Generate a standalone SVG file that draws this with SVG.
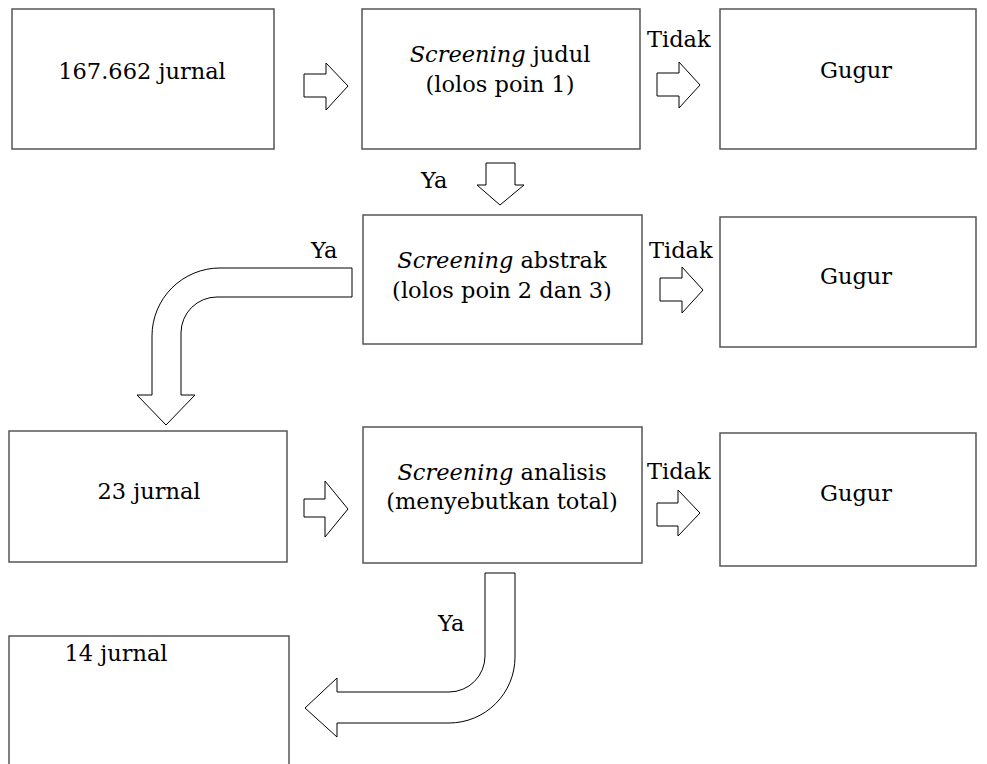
<svg xmlns="http://www.w3.org/2000/svg" width="987" height="764" viewBox="0 0 987 764">
<style>
.box{fill:#fff;stroke:#555;stroke-width:1.5}
.arr{fill:#fff;stroke:#000;stroke-width:1}
text{font-family:"DejaVu Serif","Liberation Serif",serif;font-size:22.5px;fill:#000}
.c{text-anchor:middle}
.i{font-style:italic}
</style>
<rect width="987" height="764" fill="#fff"/>
<g id="connectors">
<path class="arr" d="M304,74 L326,74 L326,63 L348,86 L326,110 L326,97 L304,97 Z"/>
<path class="arr" d="M657,73 L679,73 L679,62 L700,85 L679,108 L679,96 L657,96 Z"/>
<path class="arr" d="M486,163 L515,163 L515,185 L524,185 L500,205 L477,185 L486,185 Z"/>
<path class="arr" d="M660,278 L682,278 L682,267 L703,290 L682,313 L682,301 L660,301 Z"/>
<path class="arr" d="M352,268 L220,268 A68,68 0 0 0 152,336 L152,395 L137,395 L166,425 L195,395 L181,395 L181,333 A36,36 0 0 1 217,297 L352,297 Z"/>
<path class="arr" d="M304,499 L325,499 L325,481 L348,509 L325,537 L325,517 L304,517 Z"/>
<path class="arr" d="M657,503 L678,503 L678,490 L700,513 L678,536 L678,526 L657,526 Z"/>
<path class="arr" d="M485,573 L515,573 L515,657 A66,66 0 0 1 449,723 L337,723 L337,737 L305,708 L337,678 L337,692 L449,692 A36,36 0 0 0 485,656 Z"/>
<text x="647" y="47">Tidak</text>
<text x="421" y="188">Ya</text>
<text x="649" y="258">Tidak</text>
<text x="311" y="258">Ya</text>
<text x="647" y="479">Tidak</text>
<text x="438" y="631">Ya</text>
</g>
<g id="n1"><rect class="box" x="12" y="9" width="262" height="140"/><text class="c" x="142" y="79">167.662 jurnal</text></g>
<g id="n2"><rect class="box" x="362" y="9" width="278" height="140"/><text class="c" x="500" y="62"><tspan class="i">Screening</tspan> judul</text><text class="c" x="500" y="92">(lolos poin 1)</text></g>
<g id="n3"><rect class="box" x="720" y="9" width="256" height="140"/><text class="c" x="856" y="78">Gugur</text></g>
<g id="n4"><rect class="box" x="363" y="215" width="279" height="129"/><text class="c" x="502" y="268"><tspan class="i">Screening</tspan> abstrak</text><text class="c" x="502" y="298">(lolos poin 2 dan 3)</text></g>
<g id="n5"><rect class="box" x="720" y="217" width="256" height="130"/><text class="c" x="856" y="284">Gugur</text></g>
<g id="n6"><rect class="box" x="9" y="431" width="278" height="131"/><text class="c" x="149" y="499">23 jurnal</text></g>
<g id="n7"><rect class="box" x="363" y="427" width="279" height="136"/><text class="c" x="502" y="480"><tspan class="i">Screening</tspan> analisis</text><text class="c" x="502" y="509">(menyebutkan total)</text></g>
<g id="n8"><rect class="box" x="720" y="433" width="256" height="133"/><text class="c" x="856" y="501">Gugur</text></g>
<g id="n9"><rect class="box" x="9" y="636" width="280" height="140"/><text class="c" x="116" y="661">14 jurnal</text></g>
</svg>
